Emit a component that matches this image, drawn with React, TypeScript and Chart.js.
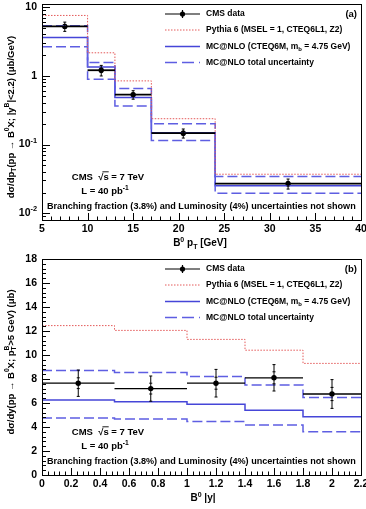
import React, { useEffect, useRef } from "react";
import { Chart, registerables } from "chart.js";

Chart.register(...registerables);

// ---------- (a) differential cross section in B0 transverse momentum ----------
const PT_EDGES = [5, 10, 13, 17, 24, 40];
const PT_CENTERS = [7.5, 11.5, 15, 20.5, 32];
const PT_DATA = [5.2, 1.2, 0.53, 0.146, 0.027];
const PT_ERR_TOTAL = [0.8, 0.21, 0.075, 0.022, 0.0045];
const PT_ERR_STAT = [0.35, 0.09, 0.03, 0.01, 0.002];
const PT_PYTHIA = [7.5, 2.15, 0.84, 0.237, 0.037];
const PT_MCNLO = [3.6, 1.34, 0.48, 0.148, 0.0252];
const PT_MCNLO_HIGH = [5.3, 1.56, 0.65, 0.2, 0.0344];
const PT_MCNLO_LOW = [2.63, 0.89, 0.362, 0.114, 0.0195];
const PT_TICKS = [5, 10, 15, 20, 25, 30, 35, 40];
const PT_TICK_LABELS = ["5", "10", "15", "20", "25", "30", "35", "40"];
const XSEC_DECADES = [0.01, 0.1, 1, 10];
const XSEC_DECADE_LABELS: Part[][] = [["10", { sup: "-2" }], ["10", { sup: "-1" }], ["1"], ["10"]];

// ---------- (b) differential cross section in B0 rapidity ----------
const RAP_EDGES = [0, 0.5, 1.0, 1.4, 1.8, 2.2];
const RAP_CENTERS = [0.25, 0.75, 1.2, 1.6, 2.0];
const RAP_DATA = [7.65, 7.2, 7.65, 8.1, 6.75];
const RAP_ERR_TOTAL = [1.1, 1.05, 1.15, 1.1, 1.2];
const RAP_ERR_STAT = [0.45, 0.45, 0.5, 0.5, 0.55];
const RAP_PYTHIA = [12.45, 12.05, 11.3, 10.4, 9.3];
const RAP_MCNLO = [6.25, 6.1, 5.9, 5.4, 4.85];
const RAP_MCNLO_HIGH = [8.7, 8.55, 8.2, 7.5, 6.45];
const RAP_MCNLO_LOW = [4.75, 4.67, 4.45, 4.17, 3.6];
const RAP_TICKS = [0, 0.2, 0.4, 0.6, 0.8, 1.0, 1.2, 1.4, 1.6, 1.8, 2.0, 2.2];
const RAP_TICK_LABELS = ["0", "0.2", "0.4", "0.6", "0.8", "1", "1.2", "1.4", "1.6", "1.8", "2", "2.2"];
const DSDY_TICKS = [0, 2, 4, 6, 8, 10, 12, 14, 16, 18];
const DSDY_TICK_LABELS = ["0", "2", "4", "6", "8", "10", "12", "14", "16", "18"];

const LEGEND_LABELS: Part[][] = [
  ["CMS data"],
  ["Pythia 6 (MSEL = 1, CTEQ6L1, Z2)"],
  ["MC@NLO (CTEQ6M, m", { sub: "b" }, " = 4.75 GeV)"],
  ["MC@NLO total uncertainty"],
];

const FAMILY = '"Liberation Sans", Arial, Helvetica, sans-serif';
const RED = "#e45a5a";
const BLUE = "#4646d8";
const BLUE_DASH = "#5e5ee2";

type Part = string | { t?: string; sup?: string; sub?: string; over?: boolean };

const fnt = (size: number) => `bold ${size}px ${FAMILY}`;

function partWidth(ctx: CanvasRenderingContext2D, p: Part, size: number): number {
  if (typeof p === "string") {
    ctx.font = fnt(size);
    return ctx.measureText(p).width;
  }
  let w = 0;
  if (p.t) {
    ctx.font = fnt(size);
    w += ctx.measureText(p.t).width;
  }
  ctx.font = fnt(size * 0.7);
  const a = p.sup ? ctx.measureText(p.sup).width : 0;
  const b = p.sub ? ctx.measureText(p.sub).width : 0;
  return w + Math.max(a, b);
}

function drawRich(
  ctx: CanvasRenderingContext2D,
  parts: Part[],
  x: number,
  y: number,
  size: number,
  align: "left" | "center" | "right",
  color = "#000"
) {
  const total = parts.reduce((s, p) => s + partWidth(ctx, p, size), 0);
  let cx = align === "left" ? x : align === "center" ? x - total / 2 : x - total;
  ctx.fillStyle = color;
  ctx.strokeStyle = color;
  ctx.textAlign = "left";
  ctx.textBaseline = "middle";
  for (const p of parts) {
    if (typeof p === "string") {
      ctx.font = fnt(size);
      ctx.fillText(p, cx, y);
      cx += ctx.measureText(p).width;
      continue;
    }
    if (p.t) {
      ctx.font = fnt(size);
      ctx.fillText(p.t, cx, y);
      const w = ctx.measureText(p.t).width;
      if (p.over) {
        ctx.lineWidth = 0.9;
        ctx.beginPath();
        ctx.moveTo(cx - 1, y - size * 0.6);
        ctx.lineTo(cx + w, y - size * 0.6);
        ctx.stroke();
      }
      cx += w;
    }
    ctx.font = fnt(size * 0.7);
    let ws = 0;
    if (p.sup) {
      ctx.fillText(p.sup, cx, y - size * 0.38);
      ws = Math.max(ws, ctx.measureText(p.sup).width);
    }
    if (p.sub) {
      ctx.fillText(p.sub, cx, y + size * 0.34);
      ws = Math.max(ws, ctx.measureText(p.sub).width);
    }
    cx += ws;
  }
}

function subdivide(majors: number[], n: number): number[] {
  const out: number[] = [];
  for (let i = 0; i < majors.length - 1; i++) {
    const step = (majors[i + 1] - majors[i]) / n;
    for (let k = 1; k < n; k++) out.push(majors[i] + k * step);
  }
  return out;
}

function logMinors(min: number, max: number): number[] {
  const out: number[] = [];
  for (let e = -4; e <= 2; e++) {
    const d = Math.pow(10, e);
    for (let k = 2; k <= 9; k++) {
      const v = k * d;
      if (v > min && v < max) out.push(v);
    }
  }
  return out;
}

interface PanelSpec {
  xMajor: number[];
  xMinor: number[];
  xLabels: string[];
  yMajor: number[];
  yMinor: number[];
  yLabels: Part[][];
  xTitle: Part[];
  xTitleX: number;
  yTitle: Part[];
  yTitleY: number;
  tag: string;
  edges: number[];
  centers: number[];
  values: number[];
  errTotal: number[];
  errStat: number[];
  dataBarWidth: number;
}

function histPoints(edges: number[], vals: number[]) {
  return edges.map((e, i) => ({ x: e, y: vals[Math.min(i, vals.length - 1)] }));
}

function stepLine(edges: number[], vals: number[], color: string, width: number, dash: number[]) {
  return {
    data: histPoints(edges, vals),
    borderColor: color,
    borderWidth: width,
    borderDash: dash,
    stepped: "before" as const,
    pointRadius: 0,
    fill: false,
  };
}

function dataMarkers(centers: number[], vals: number[]) {
  return {
    data: centers.map((c, i) => ({ x: c, y: vals[i] })),
    showLine: false,
    pointRadius: 2.7,
    pointBackgroundColor: "#000",
    pointBorderColor: "#000",
    pointBorderWidth: 0,
  };
}

function makePlugin(spec: PanelSpec) {
  return {
    id: "rootFrame",
    afterDatasetsDraw(chart: any) {
      const ctx: CanvasRenderingContext2D = chart.ctx;
      const xs = chart.scales.x;
      const ys = chart.scales.y;
      ctx.save();
      ctx.strokeStyle = "#000";
      // horizontal bin-width bars of the measurement
      ctx.lineWidth = spec.dataBarWidth;
      spec.values.forEach((v, i) => {
        const py = ys.getPixelForValue(v);
        ctx.beginPath();
        ctx.moveTo(xs.getPixelForValue(spec.edges[i]), py);
        ctx.lineTo(xs.getPixelForValue(spec.edges[i + 1]), py);
        ctx.stroke();
      });
      // vertical error bars: total with small caps at stat and total ends
      ctx.lineWidth = 1;
      spec.values.forEach((v, i) => {
        const px = xs.getPixelForValue(spec.centers[i]);
        const hi = ys.getPixelForValue(v + spec.errTotal[i]);
        const lo = ys.getPixelForValue(v - spec.errTotal[i]);
        ctx.beginPath();
        ctx.moveTo(px, hi);
        ctx.lineTo(px, lo);
        const caps = [
          v + spec.errTotal[i],
          v - spec.errTotal[i],
          v + spec.errStat[i],
          v - spec.errStat[i],
        ];
        caps.forEach((c) => {
          const cy = ys.getPixelForValue(c);
          ctx.moveTo(px - 1.5, cy);
          ctx.lineTo(px + 1.5, cy);
        });
        ctx.stroke();
      });
      ctx.restore();
    },
    afterDraw(chart: any) {
      const ctx: CanvasRenderingContext2D = chart.ctx;
      const { left, right, top, bottom } = chart.chartArea;
      const xs = chart.scales.x;
      const ys = chart.scales.y;
      ctx.save();
      // frame
      ctx.strokeStyle = "#000";
      ctx.lineWidth = 1;
      ctx.strokeRect(Math.round(left) + 0.5, Math.round(top) + 0.5, Math.round(right - left), Math.round(bottom - top));
      // inward ticks
      ctx.beginPath();
      spec.xMajor.forEach((v) => {
        const px = Math.round(xs.getPixelForValue(v)) + 0.5;
        ctx.moveTo(px, bottom);
        ctx.lineTo(px, bottom - 7);
      });
      spec.xMinor.forEach((v) => {
        const px = Math.round(xs.getPixelForValue(v)) + 0.5;
        ctx.moveTo(px, bottom);
        ctx.lineTo(px, bottom - 3.5);
      });
      spec.yMajor.forEach((v) => {
        const py = Math.round(ys.getPixelForValue(v)) + 0.5;
        ctx.moveTo(left, py);
        ctx.lineTo(left + 8, py);
      });
      spec.yMinor.forEach((v) => {
        const py = Math.round(ys.getPixelForValue(v)) + 0.5;
        ctx.moveTo(left, py);
        ctx.lineTo(left + 4, py);
      });
      ctx.stroke();
      // tick labels
      spec.xMajor.forEach((v, i) => {
        drawRich(ctx, [spec.xLabels[i]], xs.getPixelForValue(v), bottom + 9.5, 10.5, "center");
      });
      spec.yMajor.forEach((v, i) => {
        drawRich(ctx, spec.yLabels[i], left - 5, ys.getPixelForValue(v), 10.5, "right");
      });
      // axis titles
      drawRich(ctx, spec.xTitle, spec.xTitleX, bottom + 23.5, 10, "center");
      ctx.save();
      ctx.translate(11, spec.yTitleY);
      ctx.rotate(-Math.PI / 2);
      drawRich(ctx, spec.yTitle, 0, 0, 9.5, "center");
      ctx.restore();

      // legend
      const lx0 = 165;
      const lx1 = 200;
      const rows = [top + 10, top + 26, top + 42.5, top + 58.5];
      ctx.lineWidth = 1.2;
      ctx.strokeStyle = "#000";
      ctx.beginPath();
      ctx.moveTo(lx0, rows[0]);
      ctx.lineTo(lx1, rows[0]);
      ctx.moveTo((lx0 + lx1) / 2, rows[0] - 4);
      ctx.lineTo((lx0 + lx1) / 2, rows[0] + 4);
      ctx.stroke();
      ctx.fillStyle = "#000";
      ctx.beginPath();
      ctx.arc((lx0 + lx1) / 2, rows[0], 2.6, 0, Math.PI * 2);
      ctx.fill();
      ctx.strokeStyle = RED;
      ctx.lineWidth = 1;
      ctx.setLineDash([1.5, 1.5]);
      ctx.beginPath();
      ctx.moveTo(lx0, rows[1]);
      ctx.lineTo(lx1, rows[1]);
      ctx.stroke();
      ctx.strokeStyle = BLUE;
      ctx.lineWidth = 1.5;
      ctx.setLineDash([]);
      ctx.beginPath();
      ctx.moveTo(lx0, rows[2]);
      ctx.lineTo(lx1, rows[2]);
      ctx.stroke();
      ctx.strokeStyle = BLUE_DASH;
      ctx.setLineDash([12, 5]);
      ctx.beginPath();
      ctx.moveTo(lx0, rows[3]);
      ctx.lineTo(lx1, rows[3]);
      ctx.stroke();
      ctx.setLineDash([]);
      LEGEND_LABELS.forEach((lab, i) => drawRich(ctx, lab, 206, rows[i], 8.5, "left"));
      drawRich(ctx, [spec.tag], 357, rows[0], 9.5, "right");

      // run conditions and note
      drawRich(ctx, ["CMS  \u221A", { t: "s", over: true }, " = 7 TeV"], 108, bottom - 42.5, 9.5, "center");
      drawRich(ctx, ["L = 40 pb", { sup: "-1" }], 105, bottom - 28.5, 9.5, "center");
      drawRich(
        ctx,
        ["Branching fraction (3.8%) and Luminosity (4%) uncertainties not shown"],
        47,
        bottom - 13.5,
        9.1,
        "left"
      );
      ctx.restore();
    },
  };
}

function baseOptions(padding: any, yScale: any, xMin: number, xMax: number) {
  return {
    responsive: false,
    animation: false as const,
    devicePixelRatio: 1,
    events: [] as any[],
    layout: { padding },
    plugins: { legend: { display: false }, tooltip: { enabled: false } },
    scales: {
      x: { type: "linear" as const, min: xMin, max: xMax, display: false },
      y: { ...yScale, display: false },
    },
  };
}

function ptConfig(): any {
  const yMin = 0.008;
  const yMax = 11;
  const spec: PanelSpec = {
    xMajor: PT_TICKS,
    xMinor: subdivide(PT_TICKS, 5),
    xLabels: PT_TICK_LABELS,
    yMajor: XSEC_DECADES,
    yMinor: logMinors(yMin, yMax),
    yLabels: XSEC_DECADE_LABELS,
    xTitle: ["B", { sup: "0" }, " p", { sub: "T" }, " [GeV]"],
    xTitleX: 200,
    yTitle: ["d\u03C3/dp", { sub: "T" }, "(pp \u2192 B", { sup: "0" }, "X; |y", { sup: "B" }, "|<2.2) (\u03BCb/GeV)"],
    yTitleY: 117,
    tag: "(a)",
    edges: PT_EDGES,
    centers: PT_CENTERS,
    values: PT_DATA,
    errTotal: PT_ERR_TOTAL,
    errStat: PT_ERR_STAT,
    dataBarWidth: 1.8,
  };
  return {
    type: "line",
    data: {
      datasets: [
        stepLine(PT_EDGES, PT_PYTHIA, RED, 1, [1.5, 1.5]),
        stepLine(PT_EDGES, PT_MCNLO_HIGH, BLUE_DASH, 1.5, [10, 4]),
        stepLine(PT_EDGES, PT_MCNLO_LOW, BLUE_DASH, 1.5, [10, 4]),
        stepLine(PT_EDGES, PT_MCNLO, BLUE, 1.5, []),
        dataMarkers(PT_CENTERS, PT_DATA),
      ],
    },
    options: baseOptions(
      { left: 42, right: 5, top: 4, bottom: 30 },
      { type: "logarithmic", min: yMin, max: yMax },
      5,
      40
    ),
    plugins: [makePlugin(spec)],
  };
}

function rapConfig(): any {
  const spec: PanelSpec = {
    xMajor: RAP_TICKS,
    xMinor: subdivide(RAP_TICKS, 5),
    xLabels: RAP_TICK_LABELS,
    yMajor: DSDY_TICKS,
    yMinor: subdivide(DSDY_TICKS, 5),
    yLabels: DSDY_TICK_LABELS.map((s) => [s]),
    xTitle: ["B", { sup: "0" }, " |y|"],
    xTitleX: 203,
    yTitle: ["d\u03C3/dy(pp \u2192 B", { sup: "0" }, "X; p", { sub: "T", sup: "B" }, ">5 GeV) (\u03BCb)"],
    yTitleY: 112,
    tag: "(b)",
    edges: RAP_EDGES,
    centers: RAP_CENTERS,
    values: RAP_DATA,
    errTotal: RAP_ERR_TOTAL,
    errStat: RAP_ERR_STAT,
    dataBarWidth: 1.3,
  };
  return {
    type: "line",
    data: {
      datasets: [
        stepLine(RAP_EDGES, RAP_PYTHIA, RED, 1, [1.5, 1.5]),
        stepLine(RAP_EDGES, RAP_MCNLO_HIGH, BLUE_DASH, 1.5, [10, 4]),
        stepLine(RAP_EDGES, RAP_MCNLO_LOW, BLUE_DASH, 1.5, [10, 4]),
        stepLine(RAP_EDGES, RAP_MCNLO, BLUE, 1.5, []),
        dataMarkers(RAP_CENTERS, RAP_DATA),
      ],
    },
    options: baseOptions(
      { left: 42, right: 5, top: 9, bottom: 34 },
      { type: "linear", min: 0, max: 18 },
      0,
      2.2
    ),
    plugins: [makePlugin(spec)],
  };
}

export default function App() {
  const topRef = useRef<HTMLCanvasElement>(null);
  const botRef = useRef<HTMLCanvasElement>(null);

  useEffect(() => {
    const a = new Chart(topRef.current as HTMLCanvasElement, ptConfig());
    const b = new Chart(botRef.current as HTMLCanvasElement, rapConfig());
    return () => {
      a.destroy();
      b.destroy();
    };
  }, []);

  return (
    <div style={{ position: "absolute", left: 0, top: 0, width: 366, height: 509, background: "#fff" }}>
      <canvas ref={topRef} width={366} height={250} style={{ position: "absolute", left: 0, top: 0 }} />
      <canvas ref={botRef} width={366} height={259} style={{ position: "absolute", left: 0, top: 250 }} />
    </div>
  );
}
